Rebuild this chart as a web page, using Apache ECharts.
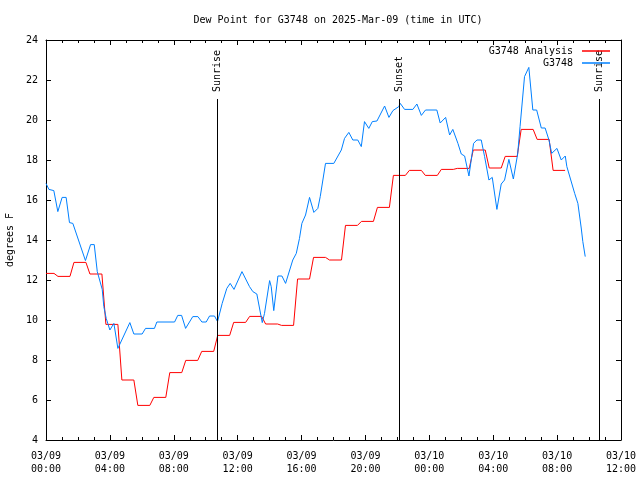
<!DOCTYPE html>
<html>
<head>
<meta charset="utf-8">
<script src="https://cdn.jsdelivr.net/npm/echarts@6/dist/echarts.min.js"></script>
<style>html,body{margin:0;padding:0;background:#fff}#c{width:640px;height:480px}</style>
</head>
<body>
<div id="c"></div>
<script>
// ---- data ----
const titleText = 'Dew Point for G3748 on 2025-Mar-09 (time in UTC)';
const xTickLabels = ['03/09\n00:00','03/09\n04:00','03/09\n08:00','03/09\n12:00','03/09\n16:00','03/09\n20:00','03/10\n00:00','03/10\n04:00','03/10\n08:00','03/10\n12:00'];
// hours since 2025-03-09 00:00 UTC
const analysisHours = [0,1,2,3,4,5,6,7,8,9,10,11,12,13,14,15,16,17,18,19,20,21,22,23,24,25,26,27,28,29,30,31,32];
const analysisValues = [12.33,12.18,12.88,12.3,9.78,7.0,5.73,6.13,7.37,7.98,8.43,9.23,9.88,10.18,9.8,9.73,12.05,13.13,13.0,14.73,14.93,15.63,17.23,17.48,17.23,17.53,17.58,18.5,17.6,18.18,19.53,19.03,17.48];
const obsHours = [0,0.18,0.49,0.74,1.01,1.26,1.47,1.68,2.47,2.79,3.02,3.21,3.52,3.62,3.77,4.0,4.25,4.5,5.25,5.5,6.02,6.23,6.79,6.94,8.05,8.25,8.49,8.74,9.19,9.51,9.76,10.03,10.24,10.55,10.74,11.03,11.32,11.53,11.77,12.27,12.74,12.95,13.2,13.33,13.54,13.68,14.0,14.1,14.26,14.52,14.77,15.0,15.45,15.67,15.87,16.02,16.25,16.5,16.77,17.02,17.17,17.5,18.02,18.49,18.69,18.96,19.21,19.52,19.74,19.94,20.21,20.43,20.72,21.2,21.47,21.72,22.09,22.18,22.45,22.97,23.22,23.5,23.76,24.47,24.68,25.02,25.27,25.47,25.79,26.0,26.21,26.48,26.77,26.98,27.25,27.46,27.73,27.94,28.23,28.5,28.71,28.98,29.26,29.53,29.68,29.96,30.23,30.48,30.72,31.01,31.25,31.49,31.66,31.99,32.26,32.51,32.61,33.1,33.3,33.51,33.61,33.76];
const obsValues = [16.83,16.53,16.47,15.42,16.13,16.13,14.87,14.83,12.97,13.77,13.77,12.42,11.53,10.67,10.08,9.5,9.83,8.58,9.87,9.3,9.3,9.58,9.58,9.9,9.9,10.23,10.23,9.58,10.17,10.17,9.9,9.9,10.2,10.2,9.92,10.83,11.58,11.83,11.53,12.42,11.67,11.42,11.3,10.75,9.87,10.33,11.97,11.67,10.47,12.2,12.2,11.83,13.0,13.33,14.08,14.83,15.25,16.13,15.38,15.58,16.17,17.83,17.83,18.5,19.08,19.38,19.0,19.0,18.67,19.92,19.58,19.92,19.95,20.7,20.13,20.47,20.67,20.83,20.53,20.53,20.8,20.23,20.5,20.5,19.85,20.13,19.25,19.53,18.83,18.3,18.2,17.2,18.83,19.0,19.0,18.17,17.0,17.13,15.53,16.8,17.0,18.03,17.05,18.3,19.67,22.17,22.63,20.5,20.5,19.6,19.6,19.0,18.33,18.58,18.0,18.2,17.67,16.33,15.83,14.6,13.92,13.17];
const eventNames = ['Sunrise','Sunset','Sunrise'];
const eventHours = [10.70,22.09,34.61];

// ---- build ----
const FONT = 'DejaVu Sans Mono';
const analysisData = [];
analysisHours.forEach((h,i)=>{
  analysisData.push([Math.max(0,h-0.25), analysisValues[i]]);
  analysisData.push([h+0.5, analysisValues[i]]);
});
const obsData = obsHours.map((h,i)=>[h, obsValues[i]]);
const lineTop = 21.05, labelBase = 21.4;

const baseX = {
  type:'value', min:0, max:36, interval:4,
  axisLine:{show:true,onZero:false,lineStyle:{color:'#000',width:1}},
  axisTick:{show:true,inside:true,length:5,lineStyle:{color:'#000'}},
  minorTick:{show:true,splitNumber:4,length:3,lineStyle:{color:'#000'}},
  splitLine:{show:false}, minorSplitLine:{show:false}
};
const baseY = {
  type:'value', min:4, max:24, interval:2,
  axisLine:{show:true,onZero:false,lineStyle:{color:'#000',width:1}},
  axisTick:{show:true,inside:true,length:5,lineStyle:{color:'#000'}},
  splitLine:{show:false}
};

const chart = echarts.init(document.getElementById('c'), null, {renderer:'canvas'});
chart.setOption({
  animation:false,
  backgroundColor:'#fff',
  title:{text:titleText,left:333,textAlign:'center',top:10,
    textStyle:{fontFamily:FONT,fontSize:10,fontWeight:'normal',color:'#000'}},
  grid:{left:46,right:19,top:40,bottom:40,containLabel:false,outerBoundsMode:'none'},
  legend:{orient:'vertical',right:30,top:45,padding:0,align:'right',itemWidth:28,itemHeight:1.5,itemGap:0,
    data:[{name:'G3748 Analysis',icon:'rect'},{name:'G3748',icon:'rect'}],
    textStyle:{fontFamily:FONT,fontSize:10,color:'#000',lineHeight:12,padding:[0,4,0,0]}},
  xAxis:[
    Object.assign({}, baseX, {position:'bottom',
      axisLabel:{show:true,margin:10,fontFamily:FONT,fontSize:10,color:'#000',lineHeight:13,
        formatter:(v)=>xTickLabels[Math.round(v/4)]}}),
    Object.assign({}, baseX, {position:'top',axisLabel:{show:false}})
  ],
  yAxis:[
    Object.assign({}, baseY, {position:'left',name:'degrees F',nameLocation:'middle',nameGap:31,nameRotate:90,
      nameTextStyle:{fontFamily:FONT,fontSize:10,color:'#000'},
      axisLabel:{show:true,margin:8,fontFamily:FONT,fontSize:10,color:'#000'}}),
    Object.assign({}, baseY, {position:'right',axisLabel:{show:false}})
  ],
  series:[
    {name:'G3748 Analysis',type:'line',data:analysisData,showSymbol:false,symbol:'none',
      lineStyle:{color:'#ff0000',width:1},itemStyle:{color:'#ff0000'},z:2},
    {name:'G3748',type:'line',data:obsData,showSymbol:false,symbol:'none',
      lineStyle:{color:'#0080ff',width:1},itemStyle:{color:'#0080ff'},z:3,
      markLine:{silent:true,symbol:['none','none'],label:{show:false},
        lineStyle:{color:'#000',width:1,type:'solid'},
        data:eventHours.map(h=>[{coord:[h,4]},{coord:[h,lineTop]}])}}
  ]
});

const g = eventHours.map((h,i)=>{
  const p = chart.convertToPixel({xAxisIndex:0,yAxisIndex:0},[h,labelBase]);
  return {type:'text',x:p[0]+1,y:p[1],rotation:Math.PI/2,
    style:{text:eventNames[i],font:'10px '+FONT,fill:'#000',align:'left',verticalAlign:'middle'}};
});
chart.setOption({graphic:g});
</script>
</body>
</html>
